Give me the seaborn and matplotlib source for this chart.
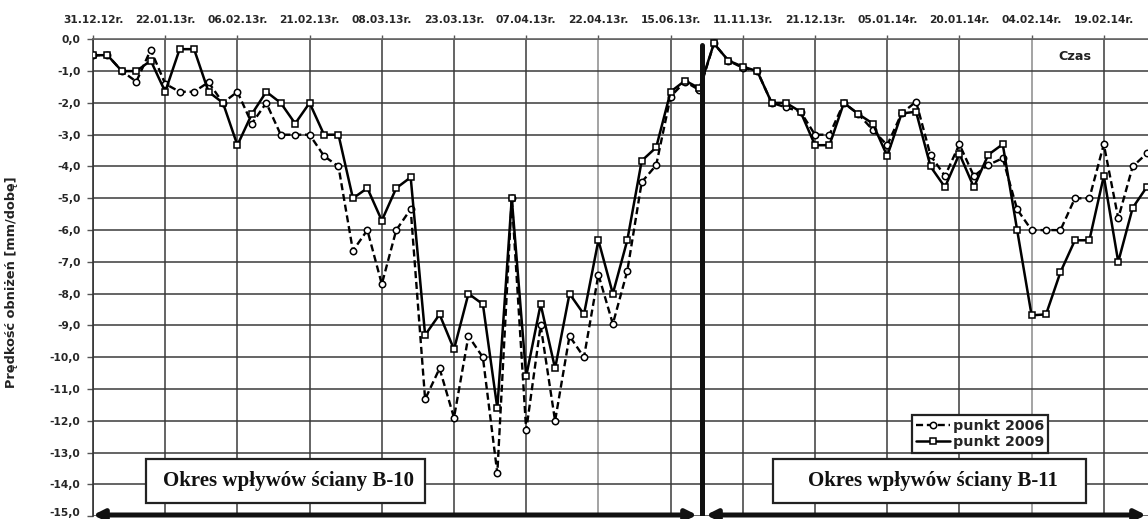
import matplotlib
matplotlib.use("Agg")
import matplotlib.pyplot as plt
from matplotlib.patches import Rectangle
import matplotlib.transforms as mtransforms
import seaborn as sns
import numpy as np
import pandas as pd

# ---- data ----
tick_labels = ["31.12.12r.", "22.01.13r.", "06.02.13r.", "21.02.13r.", "08.03.13r.",
               "23.03.13r.", "07.04.13r.", "22.04.13r.", "15.06.13r.", "11.11.13r.",
               "21.12.13r.", "05.01.14r.", "20.01.14r.", "04.02.14r.", "19.02.14r."]
points_per_label = 5

punkt_2006 = [-0.5, -0.5, -1.0, -1.33, -0.33, -1.4, -1.65, -1.65, -1.35, -2.0,
              -1.65, -2.65, -2.0, -3.0, -3.0, -3.0, -3.67, -4.0, -6.65, -6.0,
              -7.7, -6.0, -5.34, -11.32, -10.35, -11.9, -9.33, -10.0, -13.65, -5.0,
              -12.3, -9.0, -12.0, -9.33, -10.0, -7.4, -8.95, -7.29, -4.49, -3.96,
              -1.8, -1.33, -1.6, -0.13, -0.67, -0.9, -1.0, -2.0, -2.14, -2.28,
              -3.0, -3.0, -2.0, -2.35, -2.85, -3.33, -2.33, -1.96, -3.65, -4.3,
              -3.3, -4.3, -3.95, -3.74, -5.35, -6.0, -6.0, -6.0, -5.0, -5.0,
              -3.3, -5.63, -4.0, -3.58]

punkt_2009 = [-0.5, -0.5, -1.0, -1.0, -0.67, -1.65, -0.31, -0.31, -1.65, -2.0,
              -3.33, -2.35, -1.65, -2.0, -2.65, -2.0, -3.0, -3.0, -5.0, -4.68,
              -5.7, -4.68, -4.34, -9.3, -8.65, -9.75, -8.0, -8.33, -11.6, -5.0,
              -10.6, -8.33, -10.35, -8.0, -8.65, -6.32, -8.0, -6.32, -3.82, -3.4,
              -1.65, -1.3, -1.54, -0.13, -0.67, -0.86, -1.0, -2.0, -2.0, -2.28,
              -3.33, -3.33, -2.0, -2.35, -2.65, -3.67, -2.33, -2.28, -4.0, -4.65,
              -3.6, -4.65, -3.63, -3.3, -6.0, -8.68, -8.65, -7.32, -6.32, -6.32,
              -4.3, -7.0, -5.3, -4.63]

y_ticks = list(range(0, -16, -1))
divider_index = 42.15  # boundary between the two longwall periods

# ---- figure ----
W, H = 1148, 519
sns.set_style("white")
plt.rcParams["font.family"] = ["DejaVu Sans"]

fig = plt.figure(figsize=(W / 100, H / 100), dpi=100)
ax_left, ax_right, ax_top, ax_bot = 93, 1148, 39.3, 516.3
ax = fig.add_axes([ax_left / W, 1 - ax_bot / H, (ax_right - ax_left) / W, (ax_bot - ax_top) / H])

idx = np.arange(len(punkt_2009))
df = pd.DataFrame({"i": idx, "p2006": punkt_2006, "p2009": punkt_2009})

sns.lineplot(data=df, x="i", y="p2006", ax=ax, color="black", linestyle=(0, (3, 1.6)),
             linewidth=1.7, marker="o", markersize=4.6, markerfacecolor="white",
             markeredgecolor="black", markeredgewidth=1.1, zorder=3, label="punkt 2006")
sns.lineplot(data=df, x="i", y="p2009", ax=ax, color="black", linestyle="-",
             linewidth=1.8, marker="s", markersize=4.6, markerfacecolor="white",
             markeredgecolor="black", markeredgewidth=1.1, zorder=4, label="punkt 2009")

step_px = 14.44
ax.set_xlim(0, (ax_right - ax_left) / step_px)
ax.set_ylim(-15, 0)

xt = [k * points_per_label for k in range(len(tick_labels))]
ax.set_xticks(xt)
ax.set_xticklabels(tick_labels)
ax.xaxis.tick_top()
ax.tick_params(axis="x", which="both", top=True, bottom=False, length=3, width=1,
               color="#555555", pad=7, labelsize=7.7)
for t in ax.get_xticklabels():
    t.set_fontweight("bold")

ax.set_yticks(y_ticks)
ax.set_yticklabels([("%.1f" % v).replace(".", ",") if v != 0 else "0,0" for v in y_ticks])
ax.tick_params(axis="y", left=True, length=4, width=1, color="#555555", pad=5, labelsize=7.7)
for t in ax.get_yticklabels():
    t.set_fontweight("bold")
# keep the lowest label inside the picture
last = ax.get_yticklabels()[-1]
last.set_transform(last.get_transform() + mtransforms.ScaledTranslation(0, 4 / 100, fig.dpi_scale_trans))

ax.set_xlabel("")
ax.set_ylabel("Prędkość obniżeń [mm/dobę]", fontsize=9.3, fontweight="semibold", color="#222222")
ax.yaxis.set_label_coords(-(ax_left - 18) / (ax_right - ax_left), 0.49)

ax.grid(True, color="#3a3a3a", linewidth=1.1)
xg = ax.get_xgridlines()
for k in (7, 13):
    xg[k].set_color("#8a8a8a")
ax.set_axisbelow(True)

for s in ("right", "bottom"):
    ax.spines[s].set_visible(False)
ax.spines["left"].set_color("#333333")
ax.spines["left"].set_linewidth(1.2)
ax.spines["top"].set_color("#666666")
ax.spines["top"].set_linewidth(1.2)

# divider between periods
ax.axvline(divider_index, ymin=0.0, ymax=1 - (45 - ax_top) / (ax_bot - ax_top),
           color="#111111", linewidth=3.6, zorder=6)

# bottom period arrows
arrow_kw = dict(arrowstyle="<|-|>,head_length=0.7,head_width=0.35", color="#111111",
                lw=3.6, shrinkA=0, shrinkB=0, mutation_scale=9)
ax.annotate("", xy=(697, H - 515), xytext=(93, H - 515), xycoords="figure pixels",
            textcoords="figure pixels", arrowprops=arrow_kw, annotation_clip=False)
ax.annotate("", xy=(1146, H - 515), xytext=(706, H - 515), xycoords="figure pixels",
            textcoords="figure pixels", arrowprops=arrow_kw, annotation_clip=False)

# "Czas"
fig.text(1075 / W, 1 - 57 / H, "Czas", ha="center", va="center", fontsize=9.2,
         fontweight="bold", color="#222222")

# period boxes
def period_box(x0, x1, y0, y1, text):
    r = Rectangle((x0 / W, 1 - y1 / H), (x1 - x0) / W, (y1 - y0) / H,
                  transform=fig.transFigure, facecolor="white", edgecolor="#222222",
                  linewidth=1.6, zorder=5)
    fig.add_artist(r)
    fig.text((x0 + x1) / 2 / W + 0.003, 1 - (y0 + y1) / 2 / H, text, ha="center", va="center",
             fontsize=15, fontweight="bold", family=["Liberation Serif", "DejaVu Serif"],
             color="#111111", zorder=6)

period_box(146, 425, 459, 503, "Okres wpływów ściany B-10")
period_box(773, 1086, 459, 503, "Okres wpływów ściany B-11")

# legend
leg = ax.legend(loc="upper left", bbox_to_anchor=(912 / W, 1 - 415 / H),
                bbox_transform=fig.transFigure, frameon=True, fancybox=False,
                edgecolor="#222222", framealpha=1, borderpad=0.25, labelspacing=0.2,
                handlelength=2.4, handletextpad=0.25, borderaxespad=0,
                prop={"weight": "bold", "size": 10.3})
leg.get_frame().set_linewidth(1.6)
leg.set_zorder(7)

fig.savefig("out.png", dpi=100)
